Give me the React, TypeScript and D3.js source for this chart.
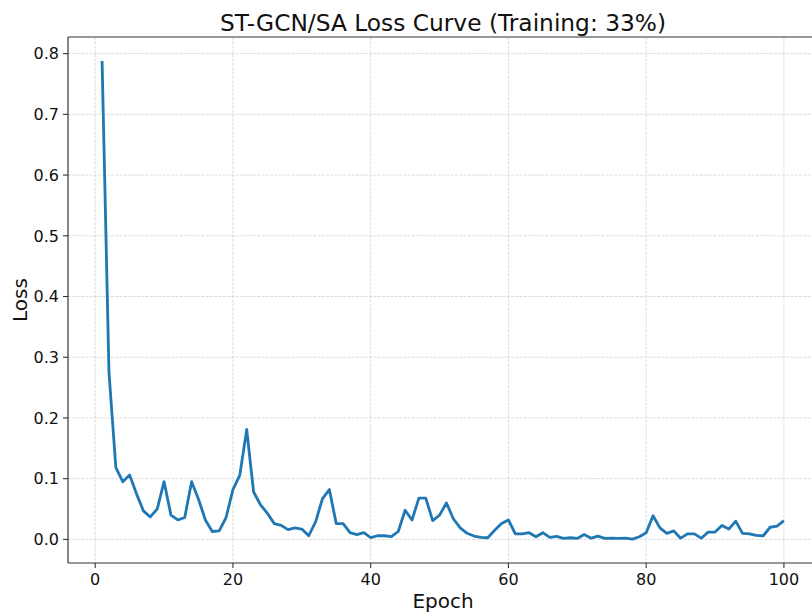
import React, { useEffect, useRef } from "react";
import * as d3 from "d3";

// loss per epoch
const epochs: number[] = d3.range(1, 101);
const lossValues: number[] = [
  0.788, 0.275, 0.118, 0.095, 0.106, 0.075, 0.047, 0.037, 0.05, 0.095,
  0.04, 0.032, 0.036, 0.095, 0.066, 0.032, 0.013, 0.014, 0.036, 0.082,
  0.106, 0.181, 0.078, 0.057, 0.043, 0.026, 0.023, 0.016, 0.019, 0.017,
  0.006, 0.029, 0.067, 0.082, 0.026, 0.026, 0.011, 0.0077, 0.011, 0.003,
  0.006, 0.006, 0.0044, 0.013, 0.048, 0.032, 0.068, 0.068, 0.031, 0.04,
  0.06, 0.034, 0.019, 0.01, 0.0055, 0.0033, 0.0027, 0.015, 0.026, 0.032,
  0.009, 0.009, 0.011, 0.0044, 0.011, 0.0033, 0.005, 0.0016, 0.0027, 0.0016,
  0.008, 0.002, 0.0055, 0.0016, 0.002, 0.0016, 0.002, 0.0005, 0.0044, 0.011,
  0.039, 0.019, 0.01, 0.014, 0.002, 0.009, 0.009, 0.002, 0.012, 0.012,
  0.023, 0.017, 0.03, 0.01, 0.009, 0.0066, 0.006, 0.02, 0.022, 0.031,
];
const xTicks: number[] = [0, 20, 40, 60, 80, 100];
const yTicks: number[] = [0, 0.1, 0.2, 0.3, 0.4, 0.5, 0.6, 0.7, 0.8];
const title = "ST-GCN/SA Loss Curve (Training: 33%)";

const App = () => {
  const ref = useRef<SVGSVGElement>(null);

  useEffect(() => {
    document.body.style.margin = "0";
    const width = 812;
    const height = 615;
    const m = { left: 68, right: 818, top: 37, bottom: 563 };
    const font = "'DejaVu Sans', sans-serif";

    const svg = d3.select(ref.current);
    svg.selectAll("*").remove();
    svg.attr("width", width).attr("height", height);

    svg.append("rect").attr("width", width).attr("height", height).attr("fill", "#fff");

    // matplotlib style 5% margins
    const xExt = d3.extent(epochs) as [number, number];
    const yExt = d3.extent(lossValues) as [number, number];
    const xPad = (xExt[1] - xExt[0]) * 0.05;
    const yPad = (yExt[1] - yExt[0]) * 0.05;

    const x = d3.scaleLinear().domain([xExt[0] - xPad, xExt[1] + xPad]).range([m.left, m.right]);
    const y = d3.scaleLinear().domain([yExt[0] - yPad, yExt[1] + yPad]).range([m.bottom, m.top]);

    const grid = svg.append("g")
      .attr("stroke", "#d2d2d2")
      .attr("stroke-width", 0.8)
      .attr("stroke-dasharray", "3 1.3");
    xTicks.forEach(t => {
      grid.append("line")
        .attr("x1", x(t)).attr("x2", x(t))
        .attr("y1", m.top).attr("y2", m.bottom);
    });
    yTicks.forEach(t => {
      grid.append("line")
        .attr("x1", m.left).attr("x2", m.right)
        .attr("y1", y(t)).attr("y2", y(t));
    });

    const line = d3.line<number>()
      .x((d, i) => x(epochs[i]))
      .y(d => y(d));

    svg.append("path")
      .datum(lossValues)
      .attr("d", line)
      .attr("fill", "none")
      .attr("stroke", "#1f77b4")
      .attr("stroke-width", 2.8)
      .attr("stroke-linejoin", "round")
      .attr("stroke-linecap", "butt");

    // spines
    const spine = svg.append("g").attr("stroke", "#333").attr("stroke-width", 1.2);
    spine.append("line").attr("x1", m.left).attr("x2", m.left).attr("y1", m.top).attr("y2", m.bottom);
    spine.append("line").attr("x1", m.left).attr("x2", m.right).attr("y1", m.bottom).attr("y2", m.bottom);
    spine.append("line").attr("x1", m.left).attr("x2", m.right).attr("y1", m.top).attr("y2", m.top);

    // ticks
    const ticks = svg.append("g").attr("font-family", font).attr("font-size", 16).attr("fill", "#111");
    xTicks.forEach(t => {
      ticks.append("line")
        .attr("x1", x(t)).attr("x2", x(t))
        .attr("y1", m.bottom).attr("y2", m.bottom + 5)
        .attr("stroke", "#333").attr("stroke-width", 1.1);
      ticks.append("text")
        .attr("x", x(t)).attr("y", m.bottom + 22)
        .attr("text-anchor", "middle")
        .text(d3.format("d")(t));
    });
    yTicks.forEach(t => {
      ticks.append("line")
        .attr("x1", m.left - 5).attr("x2", m.left)
        .attr("y1", y(t)).attr("y2", y(t))
        .attr("stroke", "#333").attr("stroke-width", 1.1);
      ticks.append("text")
        .attr("x", m.left - 9).attr("y", y(t))
        .attr("dy", "0.36em")
        .attr("text-anchor", "end")
        .text(d3.format(".1f")(t));
    });

    svg.append("text")
      .attr("x", (m.left + m.right) / 2).attr("y", 31)
      .attr("text-anchor", "middle")
      .attr("font-family", font).attr("font-size", 23.3)
      .attr("fill", "#111")
      .text(title);

    svg.append("text")
      .attr("x", (m.left + m.right) / 2).attr("y", 608)
      .attr("text-anchor", "middle")
      .attr("font-family", font).attr("font-size", 20)
      .attr("fill", "#111")
      .text("Epoch");

    svg.append("text")
      .attr("transform", `translate(27, ${(m.top + m.bottom) / 2}) rotate(-90)`)
      .attr("text-anchor", "middle")
      .attr("font-family", font).attr("font-size", 20)
      .attr("fill", "#111")
      .text("Loss");
  }, []);

  return <svg ref={ref} style={{ display: "block" }} />;
};

export default App;
